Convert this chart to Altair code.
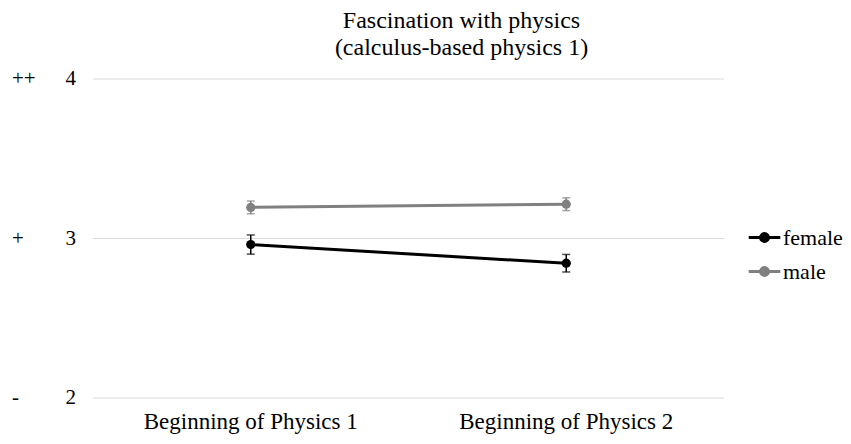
import altair as alt
import pandas as pd

stages = ["Beginning of Physics 1", "Beginning of Physics 2"]
genders = ["female", "male"]
female_mean = [2.962, 2.845]
female_err = [0.06, 0.055]
male_mean = [3.195, 3.215]
male_err = [0.04, 0.04]
scale_vals = [4, 3, 2]
scale_marks = ["++", "+", "-"]
title_lines = ["Fascination with physics", "(calculus-based physics 1)"]

rows = []
for g, means, errs in [("female", female_mean, female_err), ("male", male_mean, male_err)]:
    for s, mv, ev in zip(stages, means, errs):
        rows.append({"stage": s, "gender": g, "mean": mv, "lo": mv - ev, "hi": mv + ev})
df = pd.DataFrame(rows)
marks_df = pd.DataFrame({"mean": scale_vals, "s": scale_marks,
                         "lab": [str(v) for v in scale_vals]})

FONT = "Liberation Serif"

color = alt.Color(
    "gender:N",
    scale=alt.Scale(domain=genders, range=["#000000", "#808080"]),
    legend=alt.Legend(
        title=None, orient="none", legendX=654, legendY=141,
        symbolType="M-1,0L1,0M0.25,0A0.25,0.25 0 1,1 -0.25,0A0.25,0.25 0 1,1 0.25,0Z",
        symbolSize=1000, symbolStrokeWidth=3, labelFontSize=22, labelFont=FONT,
        labelColor="#000000", rowPadding=5, labelOffset=1,
    ),
)
x = alt.X("stage:N", sort=stages, title=None,
          scale=alt.Scale(paddingInner=0, paddingOuter=0),
          axis=alt.Axis(labelAngle=0, ticks=False, domain=False, labelFontSize=23,
                        labelFont=FONT, labelColor="#000000", labelPadding=12,
                        labelLimit=0, grid=False))
yscale = alt.Scale(domain=[2, 4], nice=False, zero=False)


def Y(field):
    return alt.Y(f"{field}:Q", title=None, scale=yscale, axis=None)


base = alt.Chart(df)
grid = alt.Chart(marks_df).mark_rule(color="#d9d9d9", strokeWidth=1.2).encode(
    y=Y("mean"), x=alt.value(0), x2=alt.value(631))
lines = base.mark_line(strokeWidth=3).encode(x=x, y=Y("mean"), color=color)
points = base.mark_point(filled=True, size=85, opacity=1).encode(x=x, y=Y("mean"), color="gender:N")
bars = base.mark_rule(strokeWidth=1.5).encode(x=x, y=Y("lo"), y2="hi:Q", color="gender:N")
cap_lo = base.mark_tick(size=8, thickness=1.5).encode(x=x, y=Y("lo"), color="gender:N")
cap_hi = base.mark_tick(size=8, thickness=1.5).encode(x=x, y=Y("hi"), color="gender:N")
side = alt.Chart(marks_df).mark_text(align="left", baseline="middle", fontSize=21, font=FONT,
                                     color="#000000").encode(
    x=alt.value(-81), y=Y("mean"), text="s:N")
ticklab = alt.Chart(marks_df).mark_text(align="right", baseline="middle", fontSize=21, font=FONT,
                                        color="#000000").encode(
    x=alt.value(-17), y=Y("mean"), text="lab:N")

chart = alt.layer(grid, lines, points, bars, cap_lo, cap_hi, side, ticklab).properties(
    width=631, height=319,
    autosize=alt.AutoSizeParams(type="none"),
    padding={"left": 85, "top": 71, "right": 119, "bottom": 38},
    title=alt.TitleParams(title_lines, font=FONT, fontSize=24, fontWeight="normal",
                          color="#000000", anchor="middle", dx=53, offset=8, lineHeight=27),
).configure_view(stroke=None)

chart.save("out.html", embed_options={"renderer": "svg", "actions": False})
